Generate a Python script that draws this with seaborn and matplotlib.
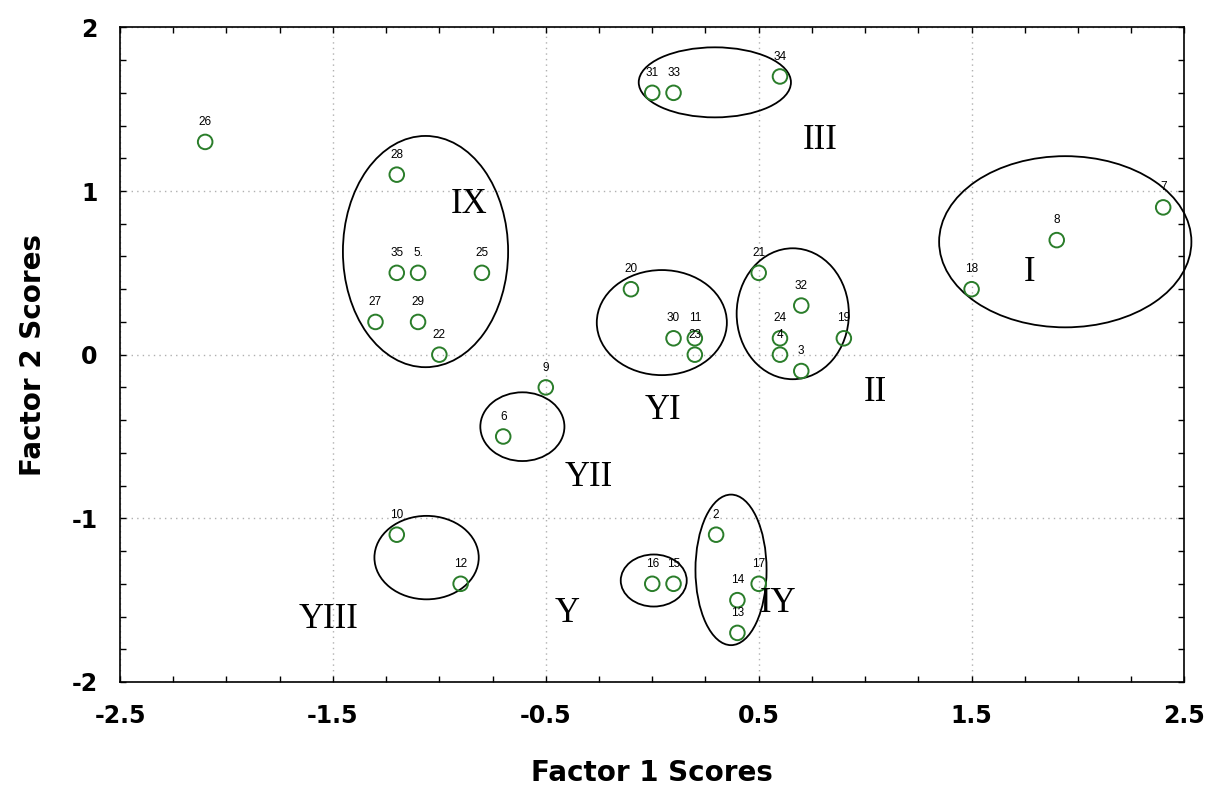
import matplotlib
matplotlib.use("Agg")
import matplotlib.pyplot as plt
from matplotlib.patches import Ellipse
from matplotlib.ticker import MultipleLocator
import seaborn as sns
import pandas as pd

labels = ["26", "28", "35", "5.", "25", "27", "29", "22", "9", "6",
          "20", "30", "11", "23", "31", "33", "34", "21", "32", "24",
          "4", "3", "19", "18", "8", "7", "10", "12", "16", "15",
          "2", "17", "14", "13"]
factor1 = [-2.1, -1.2, -1.2, -1.1, -0.8, -1.3, -1.1, -1.0, -0.5, -0.7,
           -0.1, 0.1, 0.2, 0.2, 0.0, 0.1, 0.6, 0.5, 0.7, 0.6,
           0.6, 0.7, 0.9, 1.5, 1.9, 2.4, -1.2, -0.9, 0.0, 0.1,
           0.3, 0.5, 0.4, 0.4]
factor2 = [1.3, 1.1, 0.5, 0.5, 0.5, 0.2, 0.2, 0.0, -0.2, -0.5,
           0.4, 0.1, 0.1, 0.0, 1.6, 1.6, 1.7, 0.5, 0.3, 0.1,
           0.0, -0.1, 0.1, 0.4, 0.7, 0.9, -1.1, -1.4, -1.4, -1.4,
           -1.1, -1.4, -1.5, -1.7]

# group ellipses: name, center x, center y, width, height, label x, label y
group_names = ["IX", "III", "I", "YI", "II", "YII", "YIII", "Y", "IY"]
ell_cx = [-1.065, 0.294, 1.94, 0.045, 0.66, -0.61, -1.06, 0.007, 0.37]
ell_cy = [0.63, 1.664, 0.69, 0.196, 0.25, -0.44, -1.24, -1.38, -1.315]
ell_w = [0.776, 0.715, 1.185, 0.611, 0.527, 0.395, 0.49, 0.31, 0.334]
ell_h = [1.413, 0.428, 1.046, 0.642, 0.80, 0.42, 0.51, 0.318, 0.92]
name_x = [-0.86, 0.79, 1.77, 0.05, 1.05, -0.30, -1.52, -0.40, 0.59]
name_y = [0.92, 1.31, 0.50, -0.34, -0.23, -0.75, -1.62, -1.58, -1.52]

xticks = [-2.5, -1.5, -0.5, 0.5, 1.5, 2.5]
yticks = [-2, -1, 0, 1, 2]

df = pd.DataFrame({"Factor 1": factor1, "Factor 2": factor2, "label": labels})

sns.set_style("white")
plt.rcParams["font.family"] = ["DejaVu Sans"]
plt.rcParams["text.color"] = "black"
plt.rcParams["axes.labelcolor"] = "black"
plt.rcParams["xtick.color"] = "black"
plt.rcParams["ytick.color"] = "black"

fig = plt.figure(figsize=(12.11, 7.93), dpi=100)
ax = fig.add_axes([0.0991, 0.14, 0.879, 0.8255])

sns.scatterplot(data=df, x="Factor 1", y="Factor 2", ax=ax, marker="o",
                s=110, facecolors="none", edgecolor="#2a7d2a", linewidth=1.4,
                zorder=3)

for lab, x, y in zip(labels, factor1, factor2):
    ax.annotate(lab, (x, y), xytext=(0, 10), textcoords="offset points",
                ha="center", va="bottom", fontsize=8.5, color="black",
                family="Liberation Sans", zorder=4)

for n, cx, cy, w, h, tx, ty in zip(group_names, ell_cx, ell_cy, ell_w, ell_h, name_x, name_y):
    ax.add_patch(Ellipse((cx, cy), w, h, fill=False, edgecolor="black",
                         linewidth=1.3, zorder=2, clip_on=False))
    ax.text(tx, ty, n, fontsize=25, family="Liberation Serif", ha="center", va="center",
            color="black", zorder=4)

ax.set_xlim(-2.5, 2.5)
ax.set_ylim(-2, 2)
ax.set_xticks(xticks)
ax.set_yticks(yticks)
ax.xaxis.set_minor_locator(MultipleLocator(0.25))
ax.yaxis.set_minor_locator(MultipleLocator(0.2))
ax.set_xticklabels([f"{t:g}" for t in xticks])
ax.set_yticklabels([f"{t:g}" for t in yticks])
ax.grid(True, which="major", color="#b0b0b0", linestyle=(0, (1, 3)), linewidth=1.0)
ax.set_axisbelow(True)
for sp in ax.spines.values():
    sp.set_color("black")
    sp.set_linewidth(1.2)
ax.tick_params(axis="both", which="both", direction="in", length=4, width=1,
               top=True, right=True, bottom=True, left=True)
ax.tick_params(axis="both", which="major", labelsize=17, pad=16)
for t in ax.get_xticklabels() + ax.get_yticklabels():
    t.set_fontweight("bold")
ax.set_xlabel("Factor 1 Scores", fontsize=20, fontweight="bold", labelpad=22)
ax.set_ylabel("Factor 2 Scores", fontsize=20, fontweight="bold", labelpad=18)

fig.savefig("out.png", dpi=100)
